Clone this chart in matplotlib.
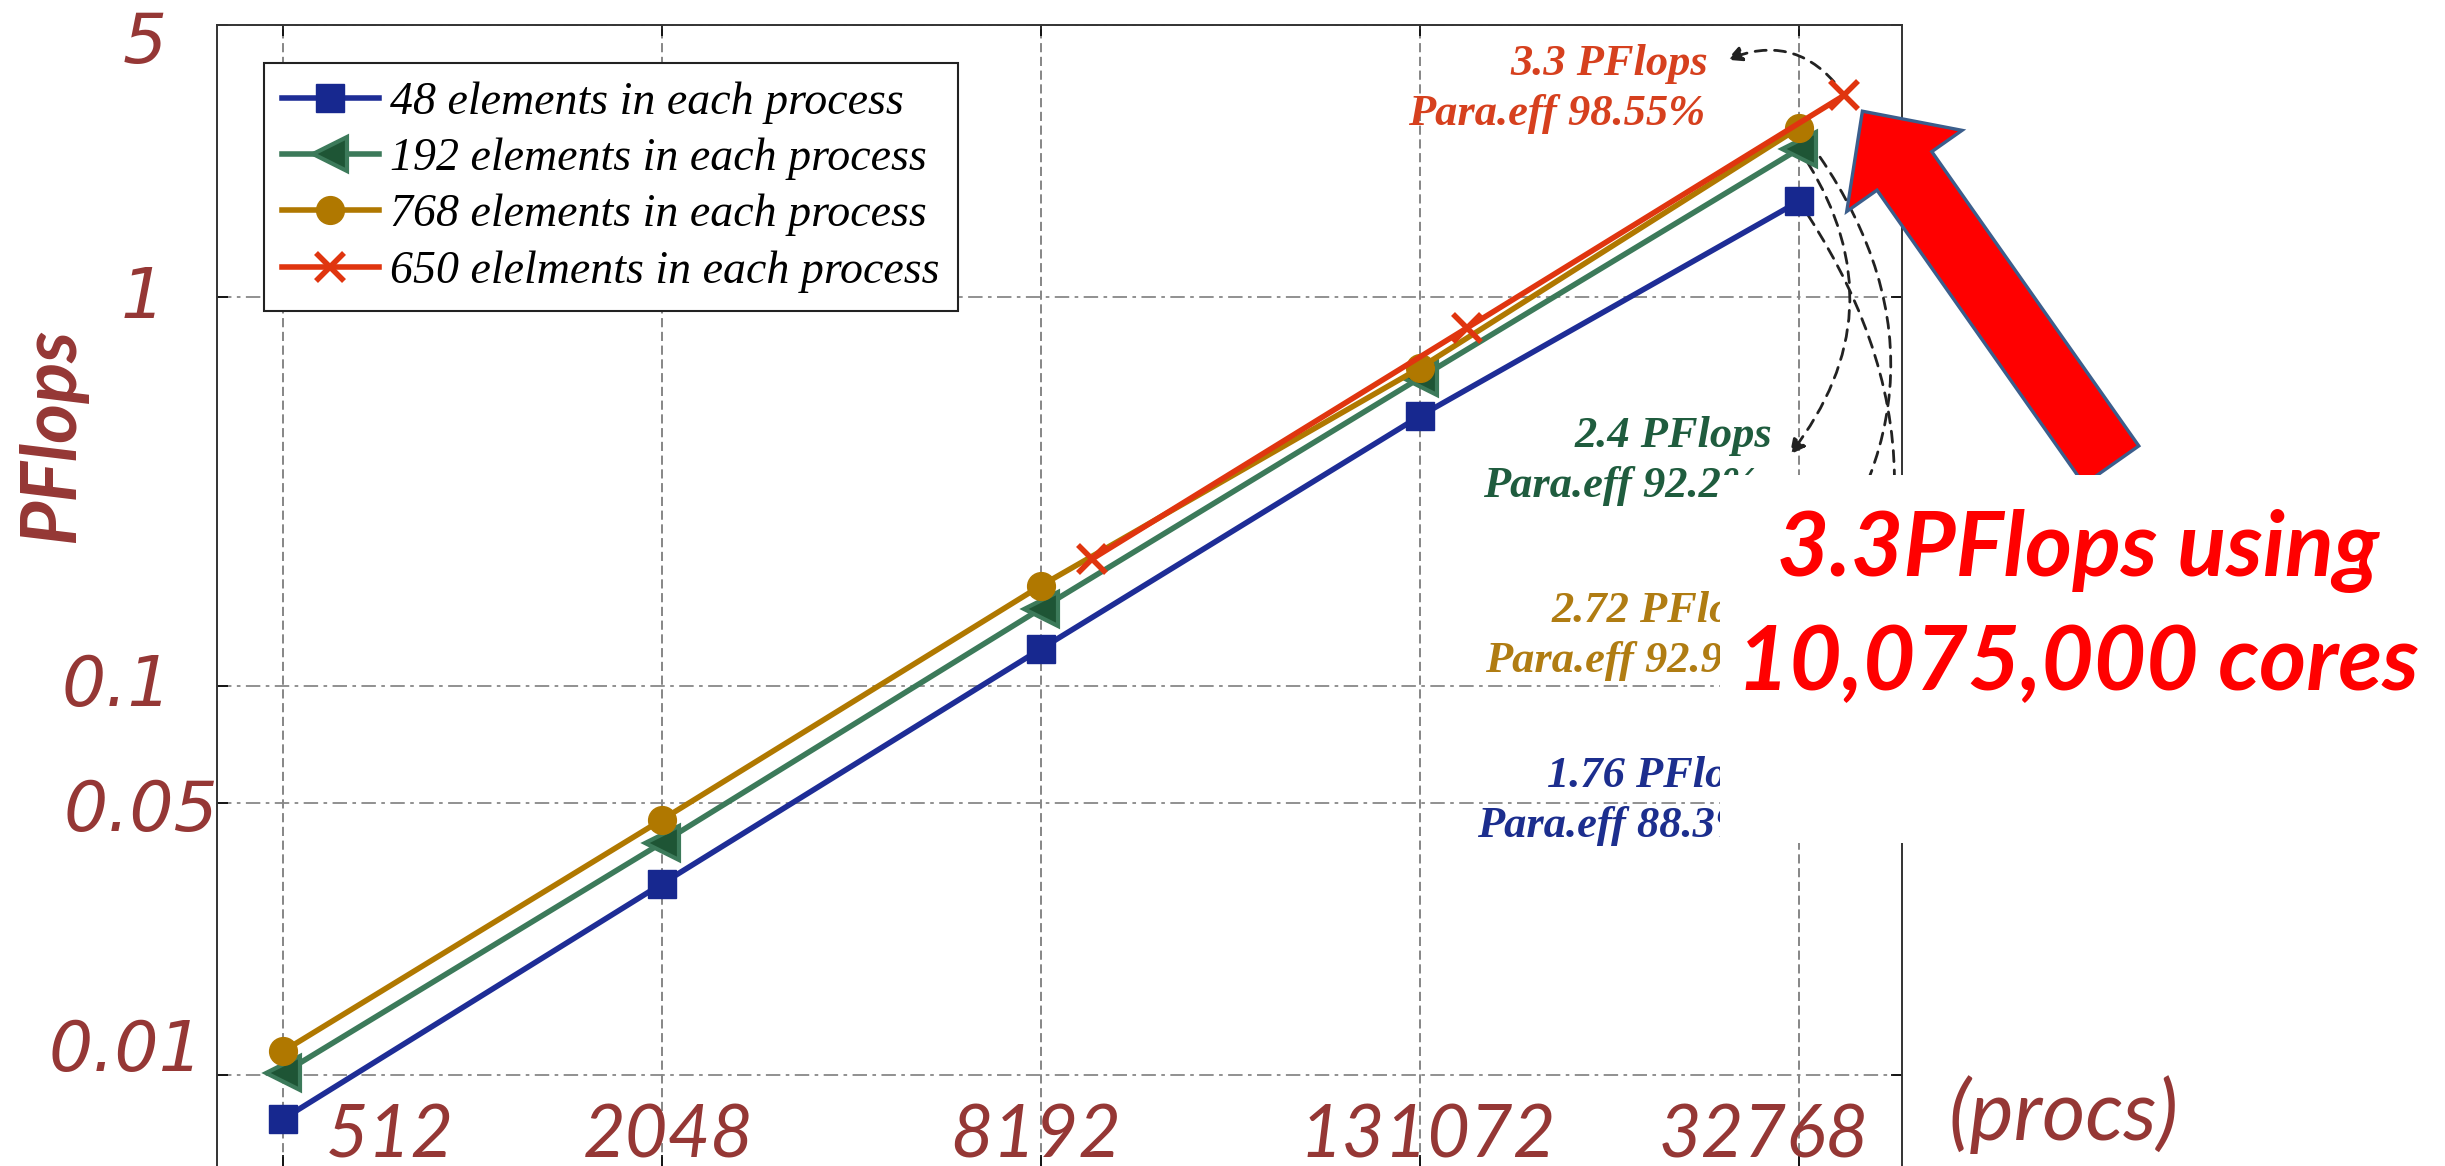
import matplotlib
matplotlib.use("Agg")
import matplotlib.pyplot as plt
from matplotlib.patches import FancyArrow, Rectangle
from matplotlib.transforms import IdentityTransform
from matplotlib.font_manager import FontProperties
from matplotlib.ticker import NullLocator

W, H = 2445, 1166

# ---- data -------------------------------------------------------------
proc_labels = ["512", "2048", "8192", "131072", "32768"]
proc_pos = [0, 1, 2, 3, 4]

pf_48 = [0.0077, 0.031, 0.1245, 0.494, 1.76]
pf_192 = [0.0101, 0.0395, 0.158, 0.619, 2.40]
pf_768 = [0.0115, 0.0453, 0.181, 0.657, 2.72]
pf_650_pos = [2.135, 3.124, 4.12]
pf_650 = [0.212, 0.832, 3.30]

series_labels = [
    "48 elements in each process",
    "192 elements in each process",
    "768 elements in each process",
    "650 elelments in each process",
]

peak_lines = [
    ("3.3 PFlops", "Para.eff 98.55%"),
    ("2.4 PFlops", "Para.eff 92.2%"),
    ("2.72 PFlops", "Para.eff 92.9%"),
    ("1.76 PFlops", "Para.eff 88.3%"),
]

ytick_vals = [5, 1, 0.1, 0.05, 0.01]
ytick_text = ["5", "1", "0.1", "0.05", "0.01"]

headline = ["3.3PFlops using", "10,075,000 cores"]

# ---- styling ----------------------------------------------------------
C_BLUE, C_GREEN, C_GOLD, C_RED = "#1E2D96", "#3C7A5A", "#B07800", "#E0350F"
C_LABEL = "#953735"
TXT_COLORS = ["#D6401E", "#1F5C3E", "#B07C12", "#1C2E8E"]


def px(x, y):
    """image pixel (from top-left) -> figure fraction"""
    return x / W, 1 - y / H


fig = plt.figure(figsize=(W / 100, H / 100), dpi=100)
fig.patch.set_facecolor("white")

ax = fig.add_axes([216.7 / W, 0, (1902 - 216.7) / W, 1 - 25 / H])
ax.set_yscale("log")
ax.set_xlim(-0.175, 4.272)
ax.set_ylim(5 * 10 ** (-(1166 - 25) / 389), 5)

ax.plot(proc_pos, pf_48, color=C_BLUE, lw=4, marker="s", ms=20,
        mfc="#17288F", mec="#17288F", label=series_labels[0], zorder=3)
ax.plot(proc_pos, pf_192, color=C_GREEN, lw=4, marker="<", ms=25,
        mfc="#1E5535", mec=C_GREEN, mew=3, label=series_labels[1], zorder=3)
ax.plot(proc_pos, pf_768, color=C_GOLD, lw=4, marker="o", ms=20,
        mfc=C_GOLD, mec=C_GOLD, label=series_labels[2], zorder=3)
ax.plot(pf_650_pos, pf_650, color=C_RED, lw=4, marker="x", ms=20,
        mew=4, label=series_labels[3], zorder=3)

ax.set_xticks(proc_pos)
ax.set_yticks(ytick_vals)
ax.yaxis.set_minor_locator(NullLocator())
ax.set_xticklabels([])
ax.set_yticklabels([])
ax.tick_params(direction="in", length=8, width=1.2, top=True, right=True,
               labelleft=False, labelbottom=False)
ax.grid(True, axis="x", ls=(0, (6, 3)), color="#666666", lw=1.1)
ax.grid(True, axis="y", ls=(0, (8, 3, 2, 3)), color="#888888", lw=1.3)
for side in ("left", "right", "top"):
    ax.spines[side].set_color("#333333")
    ax.spines[side].set_linewidth(1.4)
ax.spines["bottom"].set_visible(False)

leg = ax.legend(loc="upper left", bbox_to_anchor=px(264, 63),
                bbox_transform=fig.transFigure,
                prop=FontProperties(family="Liberation Serif", style="italic", size=33),
                frameon=True, fancybox=False, framealpha=1, edgecolor="#222222",
                handlelength=2.1, handletextpad=0.25, labelspacing=0.3,
                borderpad=0.4, borderaxespad=0)
leg.get_frame().set_linewidth(1.5)
leg.set_zorder(4)

# dashed connectors from the last points to the peak annotations
conn_ends = [(3.81, 4.07), (3.976, 0.393), (3.976, 0.159), (3.976, 0.0604)]
conn_starts = [(pf_650_pos[-1], pf_650[-1]), (proc_pos[-1], pf_192[-1]),
               (proc_pos[-1], pf_768[-1]), (proc_pos[-1], pf_48[-1])]
conn_rad = [0.4, -0.36, -0.4, -0.35]
for start, end, rad in zip(conn_starts, conn_ends, conn_rad):
    ax.annotate("", xy=end, xytext=start,
                arrowprops=dict(arrowstyle="-|>,head_length=0.5,head_width=0.25",
                                linestyle=(0, (4, 3)), color="#222222", lw=2,
                                connectionstyle=f"arc3,rad={rad}",
                                shrinkA=12, shrinkB=0, mutation_scale=18),
                zorder=2)

# peak annotations
serif_bi = FontProperties(family="Liberation Serif", style="italic",
                          weight="bold", size=32)
peak_xy = [((1510, 75), (1408, 125)), ((1575, 447), (1483, 497)),
           ((1552, 622), (1485, 672)), ((1547, 787), (1477, 837))]
for (l1, l2), (p1, p2), col in zip(peak_lines, peak_xy, TXT_COLORS):
    fig.text(*px(*p1), l1, fontproperties=serif_bi, color=col,
             ha="left", va="baseline", zorder=3)
    fig.text(*px(*p2), l2, fontproperties=serif_bi, color=col,
             ha="left", va="baseline", zorder=3)

# axis labels drawn as free text
ytick_font = FontProperties(family="DejaVu Sans", style="italic", size=50)
ytick_px = [(167, 63), (165, 318), (172, 706), (218, 831), (203, 1071)]
for t, (x, y) in zip(ytick_text, ytick_px):
    fig.text(*px(x, y), t, fontproperties=ytick_font, color=C_LABEL,
             ha="right", va="baseline", zorder=3)

xtick_font = FontProperties(family="Lato", style="italic", size=53)
xtick_px = [390, 668, 1036, 1428, 1764]
for t, x in zip(proc_labels, xtick_px):
    fig.text(*px(x, 1157), t, fontproperties=xtick_font, color=C_LABEL,
             ha="center", va="baseline", zorder=3)
fig.text(*px(2064, 1140), "(procs)", color=C_LABEL,
         fontproperties=FontProperties(family="Lato", style="italic", size=60),
         ha="center", va="baseline", zorder=3)

fig.text(*px(52, 435), "PFlops", rotation=90, color=C_LABEL,
         fontproperties=FontProperties(family="Lato", style="italic",
                                       weight="bold", size=55),
         ha="center", va="center", zorder=3)

# big call-out arrow pointing at the 3.3 PFlops point
tip = ax.transData.transform((pf_650_pos[-1], pf_650[-1])) + (18, -16)
shaft = (249, -354)
arrow = FancyArrow(tip[0] + shaft[0], tip[1] + shaft[1], -shaft[0], -shaft[1],
                   width=67, head_width=141, head_length=73,
                   length_includes_head=True, facecolor="#FF0000",
                   edgecolor="#3B5E8C", linewidth=2.4,
                   transform=IdentityTransform(), zorder=4)
fig.add_artist(arrow)

# white text box with the headline
fig.add_artist(Rectangle(px(1720, 843), (2445 - 1720) / W, (843 - 475) / H,
                         transform=fig.transFigure, facecolor="white",
                         edgecolor="none", zorder=5))
head_font = FontProperties(family="Lato", style="italic", weight="bold", size=65)
for line, base in zip(headline, [576, 690]):
    fig.text(*px(2078, base), line, fontproperties=head_font, color="#FF0000",
             ha="center", va="baseline", zorder=6)

fig.savefig("out.png", dpi=100, facecolor="white")
